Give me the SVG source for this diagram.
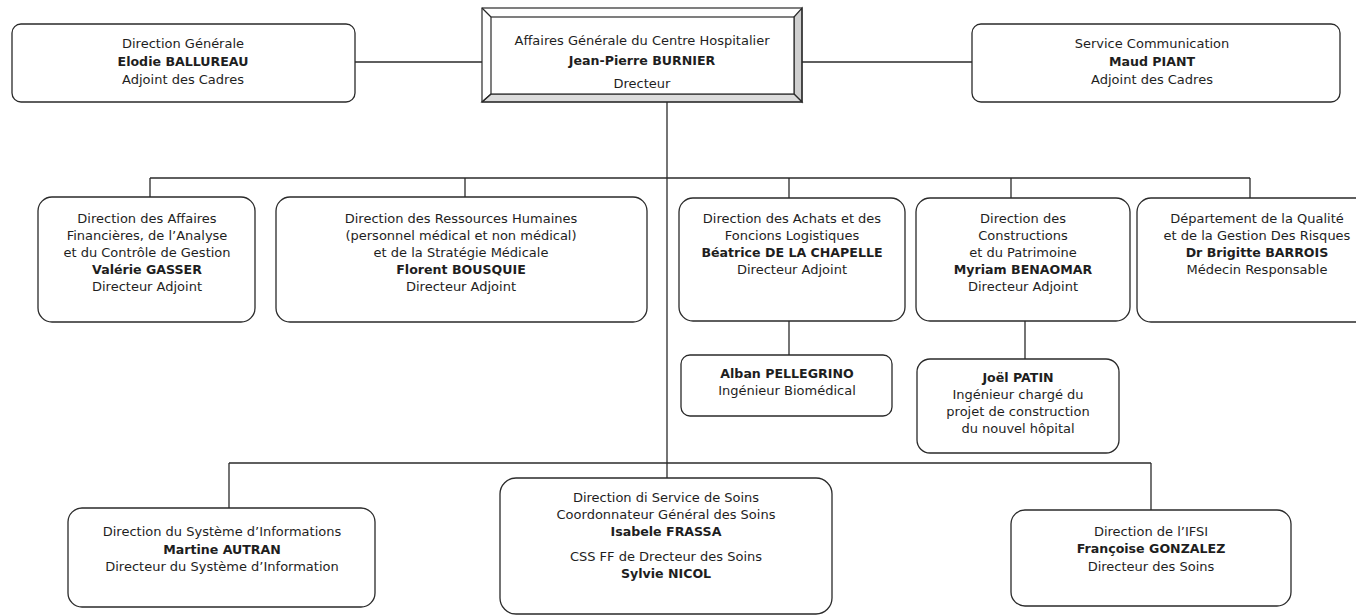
<svg xmlns="http://www.w3.org/2000/svg" width="1356" height="616" viewBox="0 0 1356 616">
<defs>
<style>
.box{fill:#fff;stroke:#2a2a2a;stroke-width:1.3}
.ln{fill:none;stroke:#2a2a2a;stroke-width:1.3}
text{font-family:"DejaVu Sans",Verdana,sans-serif;font-size:13px;fill:#1e1e1e;text-anchor:middle}
.b{font-weight:bold;font-size:12.6px}
.bev{stroke:#2a2a2a;stroke-width:1.2}
</style>
</defs>
<rect width="1356" height="616" fill="#fff"/>
<g id="connectors">
<line class="ln" x1="355" y1="62" x2="482" y2="62"/>
<line class="ln" x1="802" y1="62" x2="972" y2="62"/>
<line class="ln" x1="667" y1="102" x2="667" y2="478"/>
<line class="ln" x1="150" y1="178" x2="1250" y2="178"/>
<line class="ln" x1="150" y1="178" x2="150" y2="197"/>
<line class="ln" x1="465" y1="178" x2="465" y2="197"/>
<line class="ln" x1="789" y1="178" x2="789" y2="198"/>
<line class="ln" x1="1011" y1="178" x2="1011" y2="198"/>
<line class="ln" x1="1250" y1="178" x2="1250" y2="198"/>
<line class="ln" x1="789" y1="320" x2="789" y2="355"/>
<line class="ln" x1="1025" y1="321" x2="1025" y2="359"/>
<line class="ln" x1="229" y1="463" x2="1151" y2="463"/>
<line class="ln" x1="229" y1="463" x2="229" y2="508"/>
<line class="ln" x1="1151" y1="463" x2="1151" y2="510"/>
</g>
<g id="n-dg">
<rect class="box" x="12" y="24" width="343" height="78" rx="9"/>
<text x="183" y="48">Direction Générale</text>
<text x="183" y="66" class="b">Elodie BALLUREAU</text>
<text x="183" y="84">Adjoint des Cadres</text>
</g>
<g id="n-dir">
<rect x="482" y="8" width="320" height="94" fill="#fff" stroke="none"/>
<polygon points="794,17 802,8 802,102 794,94" fill="#cfcfcf" class="bev"/>
<polygon points="491,94 794,94 802,102 482,102" fill="#dcdcdc" class="bev"/>
<rect x="482" y="8" width="320" height="94" fill="none" class="bev"/>
<rect x="491" y="17" width="303" height="77" fill="#fff" class="bev"/>
<line x1="482" y1="8" x2="491" y2="17" class="bev"/>
<line x1="482" y1="102" x2="491" y2="94" class="bev"/>
<text x="642" y="45">Affaires Générale du Centre Hospitalier</text>
<text x="642" y="65" class="b">Jean-Pierre BURNIER</text>
<text x="642" y="88">Drecteur</text>
</g>
<g id="n-com">
<rect class="box" x="972" y="24" width="368" height="78" rx="9"/>
<text x="1152" y="48">Service Communication</text>
<text x="1152" y="66" class="b">Maud PIANT</text>
<text x="1152" y="84">Adjoint des Cadres</text>
</g>
<g id="n-af">
<rect class="box" x="38" y="197" width="217" height="125" rx="14"/>
<text x="147" y="223">Direction des Affaires</text>
<text x="147" y="240">Financières, de l’Analyse</text>
<text x="147" y="257">et du Contrôle de Gestion</text>
<text x="147" y="274" class="b">Valérie GASSER</text>
<text x="147" y="291">Directeur Adjoint</text>
</g>
<g id="n-rh">
<rect class="box" x="276" y="197" width="371" height="125" rx="14"/>
<text x="461" y="223">Direction des Ressources Humaines</text>
<text x="461" y="240">(personnel médical et non médical)</text>
<text x="461" y="257">et de la Stratégie Médicale</text>
<text x="461" y="274" class="b">Florent BOUSQUIE</text>
<text x="461" y="291">Directeur Adjoint</text>
</g>
<g id="n-achats">
<rect class="box" x="679" y="198" width="226" height="123" rx="14"/>
<text x="792" y="223">Direction des Achats et des</text>
<text x="792" y="240">Foncions Logistiques</text>
<text x="792" y="257" class="b">Béatrice DE LA CHAPELLE</text>
<text x="792" y="274">Directeur Adjoint</text>
</g>
<g id="n-constr">
<rect class="box" x="916" y="198" width="214" height="123" rx="14"/>
<text x="1023" y="223">Direction des</text>
<text x="1023" y="240">Constructions</text>
<text x="1023" y="257">et du Patrimoine</text>
<text x="1023" y="274" class="b">Myriam BENAOMAR</text>
<text x="1023" y="291">Directeur Adjoint</text>
</g>
<g id="n-qual">
<rect class="box" x="1137" y="198" width="240" height="124" rx="14"/>
<text x="1257" y="223">Département de la Qualité</text>
<text x="1257" y="240">et de la Gestion Des Risques</text>
<text x="1257" y="257" class="b">Dr Brigitte BARROIS</text>
<text x="1257" y="274">Médecin Responsable</text>
</g>
<g id="n-pellegrino">
<rect class="box" x="681" y="355" width="211" height="61" rx="9"/>
<text x="787" y="378" class="b">Alban PELLEGRINO</text>
<text x="787" y="395">Ingénieur Biomédical</text>
</g>
<g id="n-patin">
<rect class="box" x="917" y="359" width="202" height="94" rx="13"/>
<text x="1018" y="382" class="b">Joël PATIN</text>
<text x="1018" y="399">Ingénieur chargé du</text>
<text x="1018" y="416">projet de construction</text>
<text x="1018" y="433">du nouvel hôpital</text>
</g>
<g id="n-si">
<rect class="box" x="68" y="508" width="307" height="99" rx="14"/>
<text x="222" y="536">Direction du Système d’Informations</text>
<text x="222" y="554" class="b">Martine AUTRAN</text>
<text x="222" y="571">Directeur du Système d’Information</text>
</g>
<g id="n-soins">
<rect class="box" x="500" y="478" width="332" height="136" rx="16"/>
<text x="666" y="502">Direction di Service de Soins</text>
<text x="666" y="519">Coordonnateur Général des Soins</text>
<text x="666" y="536" class="b">Isabele FRASSA</text>
<text x="666" y="561">CSS FF de Drecteur des Soins</text>
<text x="666" y="578" class="b">Sylvie NICOL</text>
</g>
<g id="n-ifsi">
<rect class="box" x="1011" y="510" width="280" height="96" rx="14"/>
<text x="1151" y="536">Direction de l’IFSI</text>
<text x="1151" y="553" class="b">Françoise GONZALEZ</text>
<text x="1151" y="571">Directeur des Soins</text>
</g>
</svg>
